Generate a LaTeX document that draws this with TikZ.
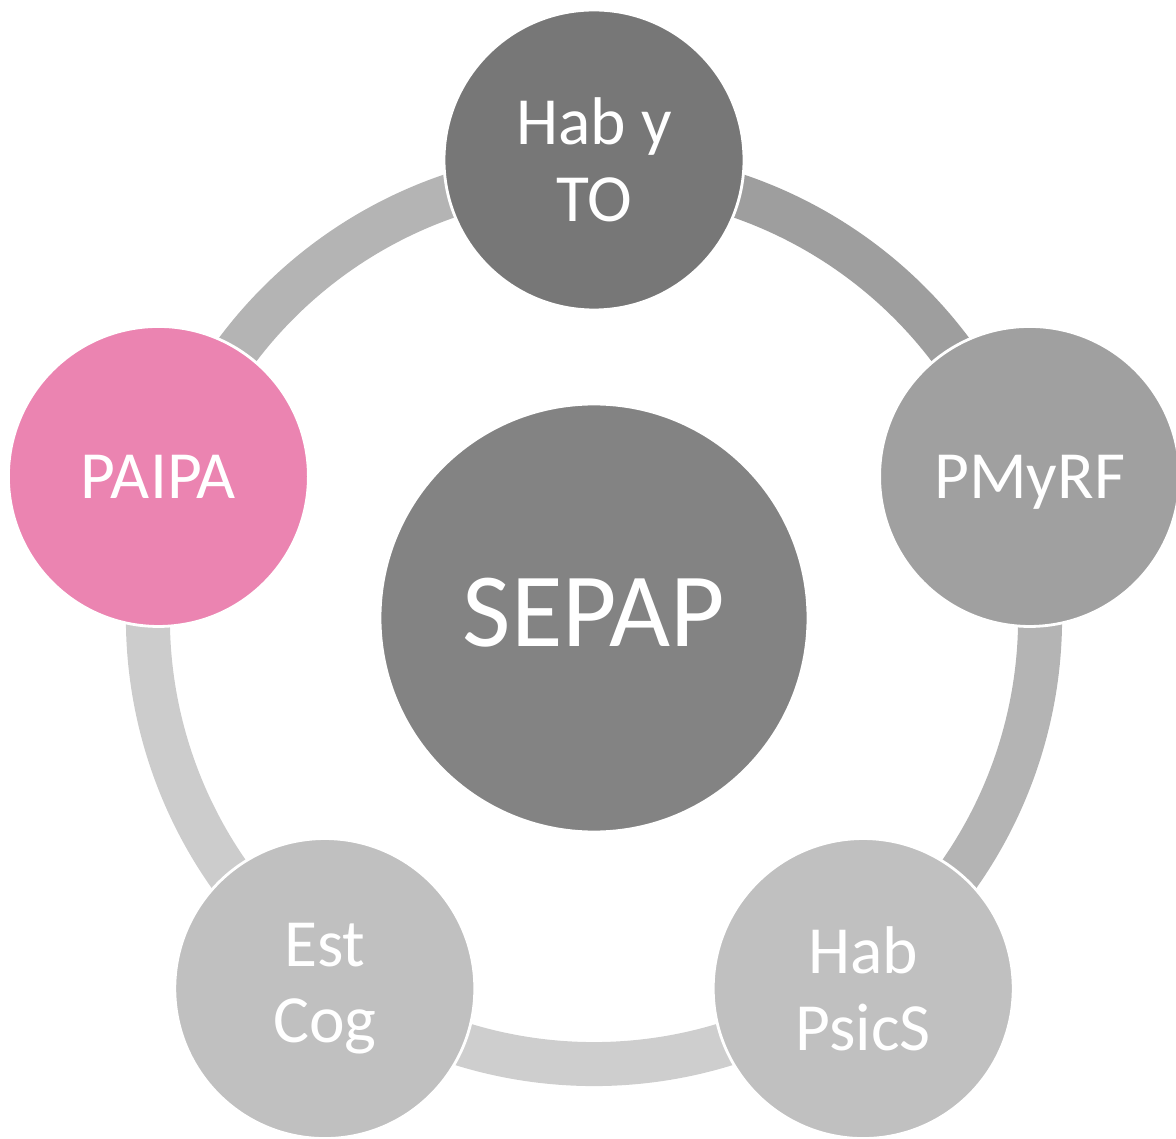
\documentclass[tikz,border=0pt]{standalone}
\usepackage{fontspec}
\setmainfont{Carlito}
\usepackage{xcolor}
\definecolor{hubgray}{HTML}{838383}
\definecolor{topgray}{HTML}{777777}
\definecolor{midgray}{HTML}{A0A0A0}
\definecolor{lowgray}{HTML}{C0C0C0}
\definecolor{paipapink}{HTML}{EB84B1}
\definecolor{arcone}{HTML}{B4B4B4}
\definecolor{arctwo}{HTML}{9E9E9E}
\definecolor{arcthree}{HTML}{CECECE}
\definecolor{arcfour}{HTML}{CCCCCC}
\usetikzlibrary{positioning}
\usetikzlibrary{calc}
\usetikzlibrary{backgrounds}

\begin{document}
\begin{tikzpicture}[
  bubble/.style={circle, draw=white, line width=0.8pt, minimum size=3cm, inner sep=0pt, text=white, align=center, font=\fontsize{19.2}{21.8}\selectfont},
  ring/.style={line width=0.44cm}]

\useasboundingbox (-5.94,-5.20) rectangle (5.82,6.18);

% Hub
  \node[bubble, fill=hubgray, minimum size=4.28cm] (sepap) at (0,0) {};
  \node[text=white, font=\fontsize{30}{36}\selectfont, inner sep=0pt] (sepaplabel) at ([yshift=0.05cm]sepap.center) {SEPAP};

% Satellites
  \node[bubble, fill=topgray] (habto) at (90:4.58) {Hab y\\TO};
  \node[bubble, fill=midgray, text depth=0pt] (pmyrf) at (18:4.58) {PMyRF};
  \node[bubble, fill=lowgray] (habps) at (-54:4.58) {Hab\\PsicS};
  \node[bubble, fill=lowgray] (estcog) at (-126:4.58) {Est\\Cog};
  \node[bubble, fill=paipapink] (paipa) at (162:4.58) {PAIPA};

% Ring
\begin{scope}[on background layer]
  \draw[ring, color=arcone] ($(sepap)!0.974!(habto)$) arc[start angle=90, end angle=162, radius=4.46];
  \draw[ring, color=arcfour] ($(sepap)!0.974!(paipa)$) arc[start angle=162, end angle=234, radius=4.46];
  \draw[ring, color=arcthree] ($(sepap)!0.974!(estcog)$) arc[start angle=234, end angle=306, radius=4.46];
  \draw[ring, color=arcone] ($(sepap)!0.974!(habps)$) arc[start angle=306, end angle=378, radius=4.46];
  \draw[ring, color=arctwo] ($(sepap)!0.974!(pmyrf)$) arc[start angle=18, end angle=90, radius=4.46];
\end{scope}

\end{tikzpicture}
\end{document}
